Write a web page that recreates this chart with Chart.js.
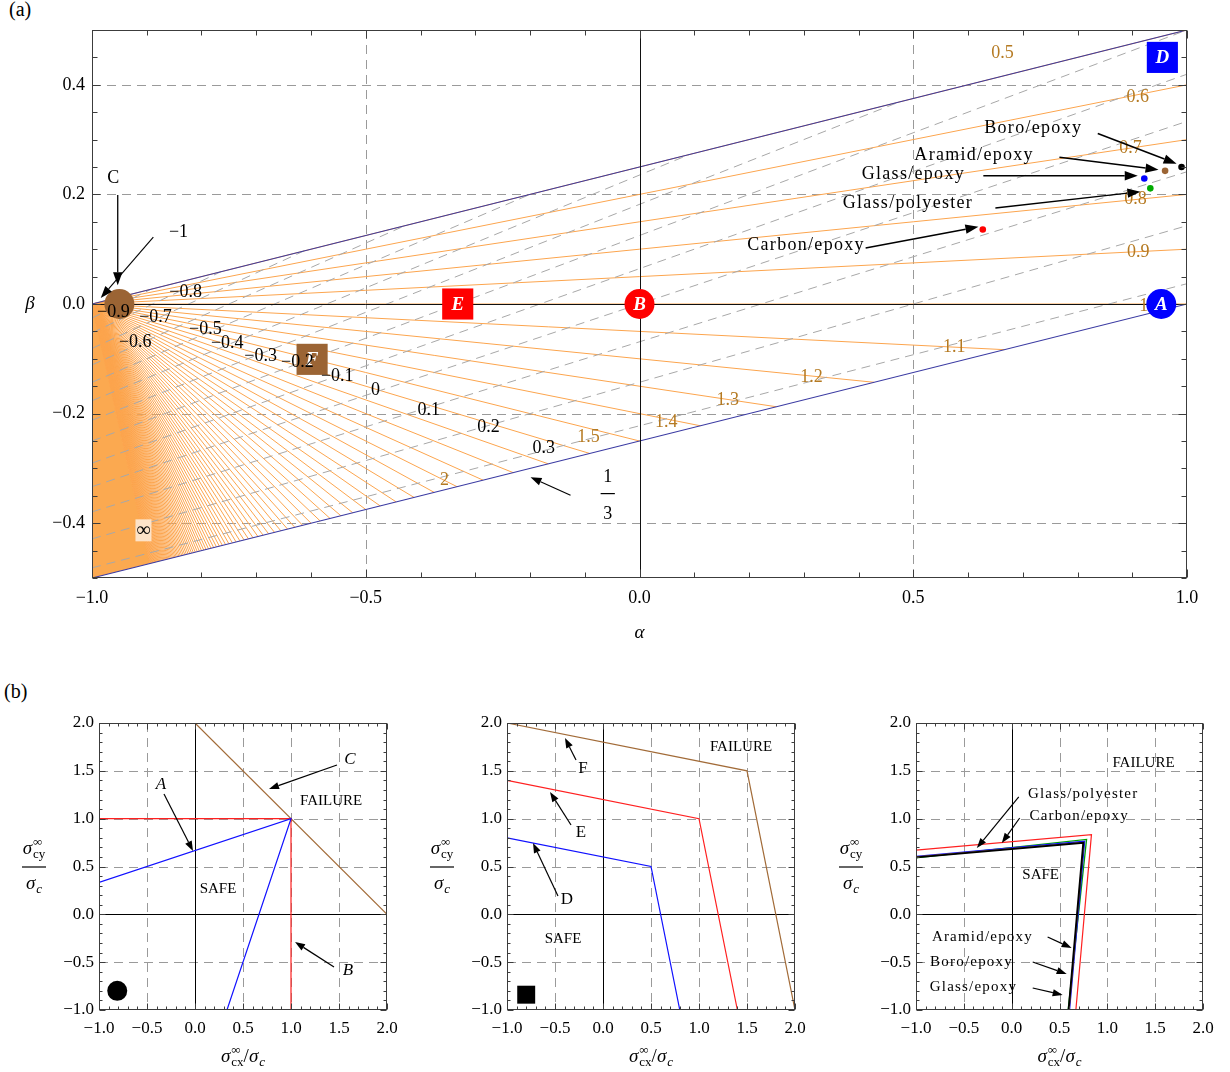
<!DOCTYPE html>
<html>
<head>
<meta charset="utf-8">
<script src="https://cdn.jsdelivr.net/npm/chart.js@4.4.1/dist/chart.umd.min.js"></script>
<style>
  html, body { margin:0; padding:0; background:#fff; }
  #page { position:relative; width:1230px; height:1072px; overflow:hidden; background:#fff; }
  canvas { position:absolute; }
  .tag { position:absolute; font-family:"Liberation Serif","Times New Roman",serif; font-size:20px; line-height:20px; color:#000; }
</style>
</head>
<body>
<div id="page">
  <div class="tag" style="left:9px;top:-1px;">(a)</div>
  <div class="tag" style="left:4px;top:681px;">(b)</div>
  <canvas id="chartA" width="1230" height="660" style="left:0;top:0;width:1230px;height:660px"></canvas>
  <canvas id="chartB1" width="410" height="412" style="left:0;top:660px;width:410px;height:412px"></canvas>
  <canvas id="chartB2" width="410" height="412" style="left:410px;top:660px;width:410px;height:412px"></canvas>
  <canvas id="chartB3" width="410" height="412" style="left:820px;top:660px;width:410px;height:412px"></canvas>
</div>
<script>
// ======================= DATA =======================
// ---- Panel (a): alpha-beta plane ----
const alphaTicks = [-1, -0.5, 0, 0.5, 1];
const betaTicks  = [-0.4, -0.2, 0, 0.2, 0.4];
const alphaGrid  = [-0.5, 0.5];
const betaGrid   = [-0.4, -0.2, 0.2, 0.4];

// iso-lines of the corner value k (orange family, all issuing from (-1,0))
const kValues = [0.5,0.6,0.7,0.8,0.9,1.0,1.1,1.2,1.3,1.4,1.5,1.6,1.7,1.8,1.9,2.0,
  2.1,2.2,2.3,2.4,2.5,2.6,2.7,2.8,2.9,3.0,3.1,3.2,3.3,3.4,3.5,3.6,3.7,3.8,3.9,4.0,
  4.1,4.2,4.3,4.4,4.5,4.6,4.7,4.8,4.9,5.0,5.1,5.2,5.3,5.4,5.5,5.6,5.7,5.8,5.9,6.0,
  6.1,6.2,6.3,6.4,6.5,6.6,6.7,6.8,6.9,7.0,7.1,7.2,7.3,7.4,7.5,7.6,7.7,7.8,7.9,8.0,
  8.1,8.2,8.3,8.4,8.5,8.6,8.7,8.8,8.9,9.0,9.1,9.2,9.3,9.4,9.5,9.6,9.7,9.8,9.9,10.0];
// iso-lines of the slope s (gray dashed family)
const sValues = [-0.9,-0.8,-0.7,-0.6,-0.5,-0.4,-0.3,-0.2,-0.1,0,0.1,0.2,0.3];

// boundary lines (blue)
const upperEdgeAlpha = [-1, 1],  upperEdgeBeta = [0, 0.5];
const lowerEdgeAlpha = [-1, 1],  lowerEdgeBeta = [-0.5, 0];

// labelled points
const circleNames = ['A', 'B', 'C'];
const circleAlpha = [0.953, 0, -0.95];
const circleBeta  = [0, 0, 0];
const squareNames = ['D', 'E', 'F'];
const squareAlpha = [0.955, -0.332, -0.598];
const squareBeta  = [0.450, 0, -0.101];

// materials
const materialNames = ['Boro/epoxy', 'Aramid/epoxy', 'Glass/epoxy', 'Glass/polyester', 'Carbon/epoxy'];
const materialAlpha = [0.990, 0.960, 0.922, 0.933, 0.627];
const materialBeta  = [0.250, 0.243, 0.229, 0.211, 0.136];

// labels of the families
const kLabelText  = ['0.5','0.6','0.7','0.8','0.9','1','1.1','1.2','1.3','1.4','1.5','2'];
const kLabelAlpha = [0.663, 0.910, 0.897, 0.906, 0.911, 0.921, 0.575, 0.314, 0.161, 0.049, -0.093, -0.356];
const kLabelBeta  = [0.457, 0.378, 0.285, 0.192, 0.095, -0.004, -0.079, -0.133, -0.175, -0.216, -0.243, -0.321];
const sLabelText  = ['\u22120.9','\u22120.8','\u22120.7','\u22120.6','\u22120.5','\u22120.4','\u22120.3','\u22120.2','\u22120.1','0','0.1','0.2','0.3'];
const sLabelAlpha = [-0.961, -0.829, -0.884, -0.921, -0.793, -0.753, -0.692, -0.625, -0.552, -0.482, -0.385, -0.276, -0.175];
const sLabelBeta  = [-0.015, 0.022, -0.024, -0.069, -0.047, -0.071, -0.095, -0.106, -0.1315, -0.157, -0.194, -0.225, -0.263];

// ---- Panel (b) : failure envelopes ----
const bTicks = [-1, -0.5, 0, 0.5, 1, 1.5, 2];
const bGrid  = [-0.5, 0.5, 1, 1.5];
// plot 1 (circles)
const envA_x = [-1, 1, 0.333],  envA_y = [0.333, 1, -1];
const envB_x = [-1, 1, 1],      envB_y = [1, 1, -1];
const envC_x = [0, 2],          envC_y = [2, 0];
// plot 2 (squares)
const envD_x = [-1, 0.5, 0.8],  envD_y = [0.8, 0.5, -1];
const envE_x = [-1, 1, 1.4],    envE_y = [1.4, 1, -1];
const envF_x = [-1, 1.5, 2],    envF_y = [2, 1.5, -1];
// plot 3 (materials)
const carbon_x = [-1, 0.834, 0.671], carbon_y = [0.671, 0.834, -1];
const glassPol_x = [-1, 0.783, 0.590], glassPol_y = [0.590, 0.783, -1];
const glassEp_x = [-1, 0.763, 0.605], glassEp_y = [0.605, 0.763, -1];
const aramid_x = [-1, 0.752, 0.600], aramid_y = [0.600, 0.752, -1];
const boro_x = [-1, 0.749, 0.595], boro_y = [0.595, 0.749, -1];

// ======================= STYLE / HELPERS =======================
const SERIF = '"Liberation Serif","Times New Roman",serif';
const MINUS = '\u2212';
const ORANGE = '#fca54e', ORANGE_FILL = '#fba950', ORANGE_TXT = '#b57a22';
const EDGE_BLUE = '#3a3aa2', GRID = '#9a9a9a', DIAG = '#a8a8a8', FRAME = '#3c3c3c';
const BROWN = '#9b6434';
const fmt1 = v => (v < -1e-9 ? MINUS : '') + Math.abs(v).toFixed(1);

// line alpha+1 = X ; k-line: beta = (1-k)/2 * X
function kLineEnd(k) {
  if (k <= 1) return { x: 1, y: 1 - k };
  const X = 2 / (2 * k - 1);
  return { x: X - 1, y: X / 4 - 0.5 };
}
// s-line: beta = m X + c
function sLine(s) {
  const m = (1 - s) / (3 - s), c = -(1 + s) / (3 - s);
  let X = 2;
  const Xb = c / (0.25 - m);
  if (Xb > 0 && Xb < X) X = Xb;
  return [{ x: -1, y: c }, { x: X - 1, y: m * X + c }];
}
function seg(xs, ys, color, width, order, extra) {
  return Object.assign({
    type: 'scatter', showLine: true,
    data: xs.map((x, i) => ({ x: x, y: ys[i] })),
    borderColor: color, backgroundColor: color, borderWidth: width,
    pointRadius: 0, pointHoverRadius: 0, order: order, fill: false
  }, extra || {});
}
function ln(ctx, x1, y1, x2, y2) { ctx.beginPath(); ctx.moveTo(x1, y1); ctx.lineTo(x2, y2); ctx.stroke(); }
function arrow(ctx, x1, y1, x2, y2, head, lw) {
  const a = Math.atan2(y2 - y1, x2 - x1);
  ctx.save(); ctx.setLineDash([]); ctx.strokeStyle = '#000'; ctx.fillStyle = '#000'; ctx.lineWidth = lw;
  const bx = x2 - head * Math.cos(a), by = y2 - head * Math.sin(a);
  ln(ctx, x1, y1, bx, by);
  const w = head * 0.36;
  ctx.beginPath(); ctx.moveTo(x2, y2);
  ctx.lineTo(bx + w * Math.sin(a), by - w * Math.cos(a));
  ctx.lineTo(bx - w * Math.sin(a), by + w * Math.cos(a));
  ctx.closePath(); ctx.fill(); ctx.restore();
}
function txt(ctx, s, x, y, font, color, align, spacing) {
  ctx.save(); ctx.font = font; ctx.fillStyle = color || '#000'; ctx.textAlign = align || 'center';
  ctx.textBaseline = 'middle'; ctx.letterSpacing = (spacing || 0) + 'px';
  let xx = x; if ((align || 'center') === 'center' && spacing) xx += spacing / 2;
  ctx.fillText(s, xx, y); ctx.restore();
}
function stepVals(min, max, step) {
  const out = [], n = Math.round((max - min) / step);
  for (let i = 0; i <= n; i++) out.push(+(min + i * step).toFixed(6));
  return out;
}
function frameTicks(ctx, a, xs, ys, t) {
  ctx.save(); ctx.strokeStyle = FRAME; ctx.lineWidth = 1; ctx.setLineDash([]);
  const L = Math.round(a.left) + 0.5, R = Math.round(a.right) - 0.5, T = Math.round(a.top) + 0.5, B = Math.round(a.bottom) - 0.5;
  ctx.strokeRect(L, T, R - L, B - T);
  const isMaj = (v, st) => Math.abs(v / st - Math.round(v / st)) < 1e-6;
  stepVals(t.xmin, t.xmax, t.xMinor).forEach(v => {
    const len = isMaj(v, t.xMajor) ? t.majLen : t.minLen;
    const p = Math.round(xs.getPixelForValue(v)) + 0.5;
    ln(ctx, p, B, p, B - len); ln(ctx, p, T, p, T + len);
  });
  stepVals(t.ymin, t.ymax, t.yMinor).forEach(v => {
    const len = isMaj(v, t.yMajor) ? t.majLen : t.minLen;
    const p = Math.round(ys.getPixelForValue(v)) + 0.5;
    ln(ctx, L, p, L + len, p); ln(ctx, R, p, R - len, p);
  });
  ctx.restore();
}
function dashedGrid(ctx, a, xs, ys, xv, yv) {
  ctx.save(); ctx.strokeStyle = GRID; ctx.lineWidth = 1; ctx.setLineDash([9, 6]);
  xv.forEach(v => { const p = Math.round(xs.getPixelForValue(v)) + 0.5; ln(ctx, p, a.top, p, a.bottom); });
  yv.forEach(v => { const p = Math.round(ys.getPixelForValue(v)) + 0.5; ln(ctx, a.left, p, a.right, p); });
  ctx.restore();
}
function zeroLines(ctx, a, xs, ys, color) {
  ctx.save(); ctx.strokeStyle = color || '#000'; ctx.lineWidth = 1; ctx.setLineDash([]);
  const px = Math.round(xs.getPixelForValue(0)) + 0.5, py = Math.round(ys.getPixelForValue(0)) + 0.5;
  ln(ctx, px, a.top, px, a.bottom); ln(ctx, a.left, py, a.right, py);
  ctx.restore();
}
function axisCfg(min, max, tickVals, fitProp, fitVal, pad, fontSize) {
  const c = {
    type: 'linear', min: min, max: max,
    grid: { display: false, drawTicks: false }, border: { display: false },
    afterBuildTicks: ax => { ax.ticks = tickVals.map(v => ({ value: v })); },
    ticks: { callback: v => fmt1(v), padding: pad, color: '#000', autoSkip: false, maxRotation: 0,
             font: { family: SERIF, size: fontSize } }
  };
  c.afterFit = ax => { ax[fitProp] = fitVal; };
  return c;
}

// ======================= PANEL (a) =======================
const dsA = [];
kValues.forEach(k => { const e = kLineEnd(k); dsA.push(seg([-1, e.x], [0, e.y], ORANGE, 1, 60)); });
const eLast = kLineEnd(kValues[kValues.length - 1]);
dsA.push(seg([-1, eLast.x, -1, -1], [0, eLast.y, -0.5, 0], ORANGE_FILL, 0, 61,
  { fill: 'shape', backgroundColor: ORANGE_FILL, borderColor: ORANGE_FILL }));
sValues.forEach(s => { const p = sLine(s); dsA.push(seg([p[0].x, p[1].x], [p[0].y, p[1].y], DIAG, 1, 50, { borderDash: [9, 6] })); });
dsA.push(seg(upperEdgeAlpha, upperEdgeBeta, EDGE_BLUE, 1.1, 40, { axisAfter: true }));
dsA.push(seg(lowerEdgeAlpha, lowerEdgeBeta, EDGE_BLUE, 1.1, 40));
dsA.push({ type: 'scatter', order: 20, data: circleAlpha.map((a, i) => ({ x: a, y: circleBeta[i] })),
  pointStyle: 'circle', pointRadius: 15, pointHoverRadius: 15, borderWidth: 0,
  backgroundColor: ['#0000ff', '#ff0000', BROWN], pointBackgroundColor: ['#0000ff', '#ff0000', BROWN] });
dsA.push({ type: 'scatter', order: 20, data: squareAlpha.map((a, i) => ({ x: a, y: squareBeta[i] })),
  pointStyle: 'rect', pointRadius: 22, pointHoverRadius: 22, borderWidth: 0,
  backgroundColor: ['#0000ff', '#ff0000', BROWN], pointBackgroundColor: ['#0000ff', '#ff0000', BROWN] });
dsA.push({ type: 'scatter', order: 10, data: materialAlpha.map((a, i) => ({ x: a, y: materialBeta[i] })),
  pointStyle: 'circle', pointRadius: 3.3, pointHoverRadius: 3.3, borderWidth: 0,
  pointBackgroundColor: ['#000000', BROWN, '#0000ff', '#00aa00', '#ff0000'] });

const materialLabelPos = [[0.718, 0.321], [0.610, 0.272], [0.499, 0.236], [0.489, 0.183], [0.303, 0.108]];
const materialArrows = [[0.837, 0.311, 0.981, 0.256], [0.767, 0.268, 0.948, 0.245], [0.628, 0.234, 0.910, 0.234],
                        [0.650, 0.175, 0.915, 0.205], [0.413, 0.102, 0.619, 0.141]];

const pluginA = {
  id: 'panelA',
  beforeDatasetsDraw(chart) {
    const { ctx, chartArea: a, scales: { x, y } } = chart;
    dashedGrid(ctx, a, x, y, alphaGrid, betaGrid);
  },
  afterDatasetDraw(chart, args) {
    if (chart.data.datasets[args.index].axisAfter) {
      const { ctx, chartArea: a, scales: { x, y } } = chart;
      zeroLines(ctx, a, x, y, '#111');
    }
  },
  afterDraw(chart) {
    const { ctx, chartArea: a, scales: { x, y } } = chart;
    const X = v => x.getPixelForValue(v), Y = v => y.getPixelForValue(v);
    frameTicks(ctx, a, x, y, { xmin: -1, xmax: 1, xMinor: 0.1, xMajor: 0.5, ymin: -0.5, ymax: 0.5, yMinor: 0.05, yMajor: 0.2, majLen: 8, minLen: 5 });
    // marker letters
    [[circleAlpha[0], circleBeta[0], 'A'], [circleAlpha[1], circleBeta[1], 'B'],
     [squareAlpha[0], squareBeta[0], 'D'], [squareAlpha[1], squareBeta[1], 'E'], [squareAlpha[2], squareBeta[2], 'F']]
      .forEach(m => txt(ctx, m[2], X(m[0]), Y(m[1]) + 1, `italic bold 19px ${SERIF}`, '#fff'));
    // k labels (orange)
    kLabelText.forEach((t, i) => txt(ctx, t, X(kLabelAlpha[i]), Y(kLabelBeta[i]), `18px ${SERIF}`, ORANGE_TXT));
    // s labels (black)
    sLabelText.forEach((t, i) => txt(ctx, t, X(sLabelAlpha[i]), Y(sLabelBeta[i]), `18px ${SERIF}`, '#000'));
    txt(ctx, MINUS + '1', X(-0.842), Y(0.1315), `18px ${SERIF}`, '#000');
    // 1/3
    txt(ctx, '1', X(-0.058), Y(-0.316), `18px ${SERIF}`, '#000');
    ctx.save(); ctx.strokeStyle = '#000'; ctx.lineWidth = 1.2;
    ln(ctx, X(-0.071), Y(-0.346), X(-0.045), Y(-0.346)); ctx.restore();
    txt(ctx, '3', X(-0.058), Y(-0.384), `18px ${SERIF}`, '#000');
    arrow(ctx, X(-0.126), Y(-0.349), X(-0.199), Y(-0.316), 11, 1.1);
    // infinity label
    ctx.save(); ctx.fillStyle = '#fde3c8';
    ctx.fillRect(X(-0.906) - 8, Y(-0.413) - 11, 16, 22); ctx.restore();
    txt(ctx, '\u221e', X(-0.906), Y(-0.413), `20px ${SERIF}`, '#000');
    // C label and arrows
    txt(ctx, 'C', X(-0.961), Y(0.230), `18px ${SERIF}`, '#000');
    arrow(ctx, X(-0.953), Y(0.199), X(-0.953), Y(0.034), 13, 1.3);
    arrow(ctx, X(-0.888), Y(0.122), X(-0.984), Y(0.011), 12, 1.1);
    // materials
    materialNames.forEach((n, i) => txt(ctx, n, X(materialLabelPos[i][0]), Y(materialLabelPos[i][1]), `18px ${SERIF}`, '#000', 'center', 1.3));
    materialArrows.forEach(m => arrow(ctx, X(m[0]), Y(m[1]), X(m[2]), Y(m[3]), 13, 1.5));
    // axis titles
    txt(ctx, '\u03b1', (a.left + a.right) / 2, a.bottom + 55, `italic 19px ${SERIF}`, '#000');
    txt(ctx, '\u03b2', a.left - 62, Y(0), `italic 19px ${SERIF}`, '#000');
  }
};

new Chart(document.getElementById('chartA'), {
  type: 'scatter',
  data: { datasets: dsA },
  options: {
    responsive: false, animation: false, events: [],
    layout: { padding: { left: 0, top: 30, right: 43, bottom: 0 } },
    plugins: { legend: { display: false }, tooltip: { enabled: false } },
    scales: {
      x: axisCfg(-1, 1, alphaTicks, 'height', 82, 9, 18),
      y: axisCfg(-0.5, 0.5, betaTicks, 'width', 92, 7, 18)
    }
  },
  plugins: [pluginA]
});

// ======================= PANEL (b) =======================
function drawSigma(ctx, x0, yBase, sub, subItalic) {
  const big = `italic 19px ${SERIF}`, small = `13px ${SERIF}`, smallI = `italic 13px ${SERIF}`;
  ctx.save(); ctx.fillStyle = '#000'; ctx.textAlign = 'left'; ctx.textBaseline = 'alphabetic';
  ctx.font = big; const w1 = ctx.measureText('\u03c3').width; ctx.fillText('\u03c3', x0, yBase);
  let w2 = 0;
  if (sub.sup) { ctx.font = small; w2 = Math.max(w2, ctx.measureText(sub.sup).width); ctx.fillText(sub.sup, x0 + w1 + 1, yBase - 8); }
  ctx.font = subItalic ? smallI : small; w2 = Math.max(w2, ctx.measureText(sub.sub).width);
  ctx.fillText(sub.sub, x0 + w1 + 1, yBase + 4);
  ctx.restore();
  return w1 + w2 + 1;
}
function measureSigma(ctx, sub) {
  ctx.save(); ctx.font = `italic 19px ${SERIF}`; const w1 = ctx.measureText('\u03c3').width;
  ctx.font = `13px ${SERIF}`; let w2 = ctx.measureText(sub.sub).width; if (sub.sup) w2 = Math.max(w2, ctx.measureText(sub.sup).width);
  ctx.restore(); return w1 + w2 + 1;
}
function axisTitlesB(ctx, a) {
  // y title: fraction
  const cx = a.left - 65, cy = (a.top + a.bottom) / 2;
  const num = { sup: '\u221e', sub: 'cy' };
  const wn = measureSigma(ctx, num);
  drawSigma(ctx, cx - wn / 2, cy - 13, num, false);
  ctx.save(); ctx.strokeStyle = '#000'; ctx.lineWidth = 1.2; ln(ctx, cx - 12, cy + 0.5, cx + 12, cy + 0.5); ctx.restore();
  const den = { sub: 'c' };
  const wd = measureSigma(ctx, den);
  drawSigma(ctx, cx - wd / 2, cy + 22, den, true);
  // x title
  const xnum = { sup: '\u221e', sub: 'cx' };
  ctx.save(); ctx.font = `19px ${SERIF}`; const ws = ctx.measureText('/').width; ctx.restore();
  const total = measureSigma(ctx, xnum) + ws + measureSigma(ctx, den);
  let x0 = (a.left + a.right) / 2 - total / 2; const yb = a.bottom + 52;
  x0 += drawSigma(ctx, x0, yb, xnum, false);
  ctx.save(); ctx.font = `19px ${SERIF}`; ctx.fillStyle = '#000'; ctx.textBaseline = 'alphabetic'; ctx.fillText('/', x0, yb); ctx.restore();
  x0 += ws;
  drawSigma(ctx, x0, yb, den, true);
}
function makeB(id, yWidth, rightPad, datasets, notes) {
  const plug = {
    id: 'pb_' + id,
    beforeDatasetsDraw(chart) {
      const { ctx, chartArea: a, scales: { x, y } } = chart;
      dashedGrid(ctx, a, x, y, bGrid, bGrid);
      zeroLines(ctx, a, x, y, '#000');
    },
    afterDraw(chart) {
      const { ctx, chartArea: a, scales: { x, y } } = chart;
      const X = v => x.getPixelForValue(v), Y = v => y.getPixelForValue(v);
      frameTicks(ctx, a, x, y, { xmin: -1, xmax: 2, xMinor: 0.1, xMajor: 0.5, ymin: -1, ymax: 2, yMinor: 0.1, yMajor: 0.5, majLen: 6, minLen: 3 });
      notes.texts.forEach(t => txt(ctx, t[0], X(t[1]), Y(t[2]), t[3], '#000', 'center', t[4] || 0));
      notes.arrows.forEach(m => arrow(ctx, X(m[0]), Y(m[1]), X(m[2]), Y(m[3]), 10, 1.2));
      axisTitlesB(ctx, a);
    }
  };
  new Chart(document.getElementById(id), {
    type: 'scatter',
    data: { datasets: datasets },
    options: {
      responsive: false, animation: false, events: [],
      layout: { padding: { left: 0, top: 63, right: rightPad, bottom: 0 } },
      plugins: { legend: { display: false }, tooltip: { enabled: false } },
      scales: {
        x: axisCfg(-1, 2, bTicks, 'height', 62, 8, 17),
        y: axisCfg(-1, 2, bTicks, 'width', yWidth, 5, 17)
      }
    },
    plugins: [plug]
  });
}
const F15 = `15px ${SERIF}`, I16 = `italic 17px ${SERIF}`, R16 = `17px ${SERIF}`;

makeB('chartB1', 99, 23, [
  seg(envC_x, envC_y, '#a26b38', 1.2, 3),
  seg(envB_x, envB_y, '#ff2020', 1.2, 2),
  seg(envA_x, envA_y, '#1010ff', 1.2, 1),
  { type: 'scatter', order: 0, data: [{ x: -0.81, y: -0.80 }], pointStyle: 'circle', pointRadius: 10, borderWidth: 0, pointBackgroundColor: '#000' }
], {
  texts: [['A', -0.354, 1.352, I16], ['C', 1.615, 1.613, I16], ['B', 1.594, -0.592, I16],
          ['FAILURE', 1.417, 1.185, F15], ['SAFE', 0.240, 0.265, F15]],
  arrows: [[-0.323, 1.258, -0.021, 0.662], [1.479, 1.561, 0.771, 1.31], [1.448, -0.55, 1.042, -0.289]]
});

makeB('chartB2', 97, 25, [
  seg(envF_x, envF_y, '#a26b38', 1.2, 3),
  seg(envE_x, envE_y, '#ff2020', 1.2, 2),
  seg(envD_x, envD_y, '#1010ff', 1.2, 1),
  { type: 'scatter', order: 0, data: [{ x: -0.80, y: -0.84 }], pointStyle: 'rect', pointRadius: 12.7, borderWidth: 0, pointBackgroundColor: '#000' }
], {
  texts: [['F', -0.208, 1.519, R16], ['E', -0.229, 0.85, R16], ['D', -0.375, 0.15, R16],
          ['FAILURE', 1.4375, 1.749, F15], ['SAFE', -0.417, -0.258, F15]],
  arrows: [[-0.281, 1.613, -0.396, 1.843], [-0.333, 0.934, -0.552, 1.279], [-0.469, 0.192, -0.729, 0.746]]
});

makeB('chartB3', 96, 27, [
  seg(carbon_x, carbon_y, '#ff2020', 1.2, 6),
  seg(glassPol_x, glassPol_y, '#00a000', 1.3, 5),
  seg(glassEp_x, glassEp_y, '#1010ff', 1.3, 4),
  seg(aramid_x, aramid_y, BROWN, 1.3, 3),
  seg(boro_x, boro_y, '#000000', 1.9, 2)
], {
  texts: [['Glass/polyester', 0.741, 1.258, F15, 1.2], ['Carbon/epoxy', 0.70, 1.028, F15, 1.2],
          ['Aramid/epoxy', -0.312, -0.237, F15, 1.2], ['Boro/epoxy', -0.426, -0.498, F15, 1.2],
          ['Glass/epoxy', -0.406, -0.76, F15, 1.2],
          ['FAILURE', 1.378, 1.582, F15], ['SAFE', 0.303, 0.411, F15]],
  arrows: [[0.074, 1.227, -0.364, 0.693], [0.084, 1.007, -0.103, 0.746],
           [0.376, -0.237, 0.627, -0.352], [0.22, -0.498, 0.575, -0.624], [0.22, -0.77, 0.533, -0.843]]
});
</script>
</body>
</html>
